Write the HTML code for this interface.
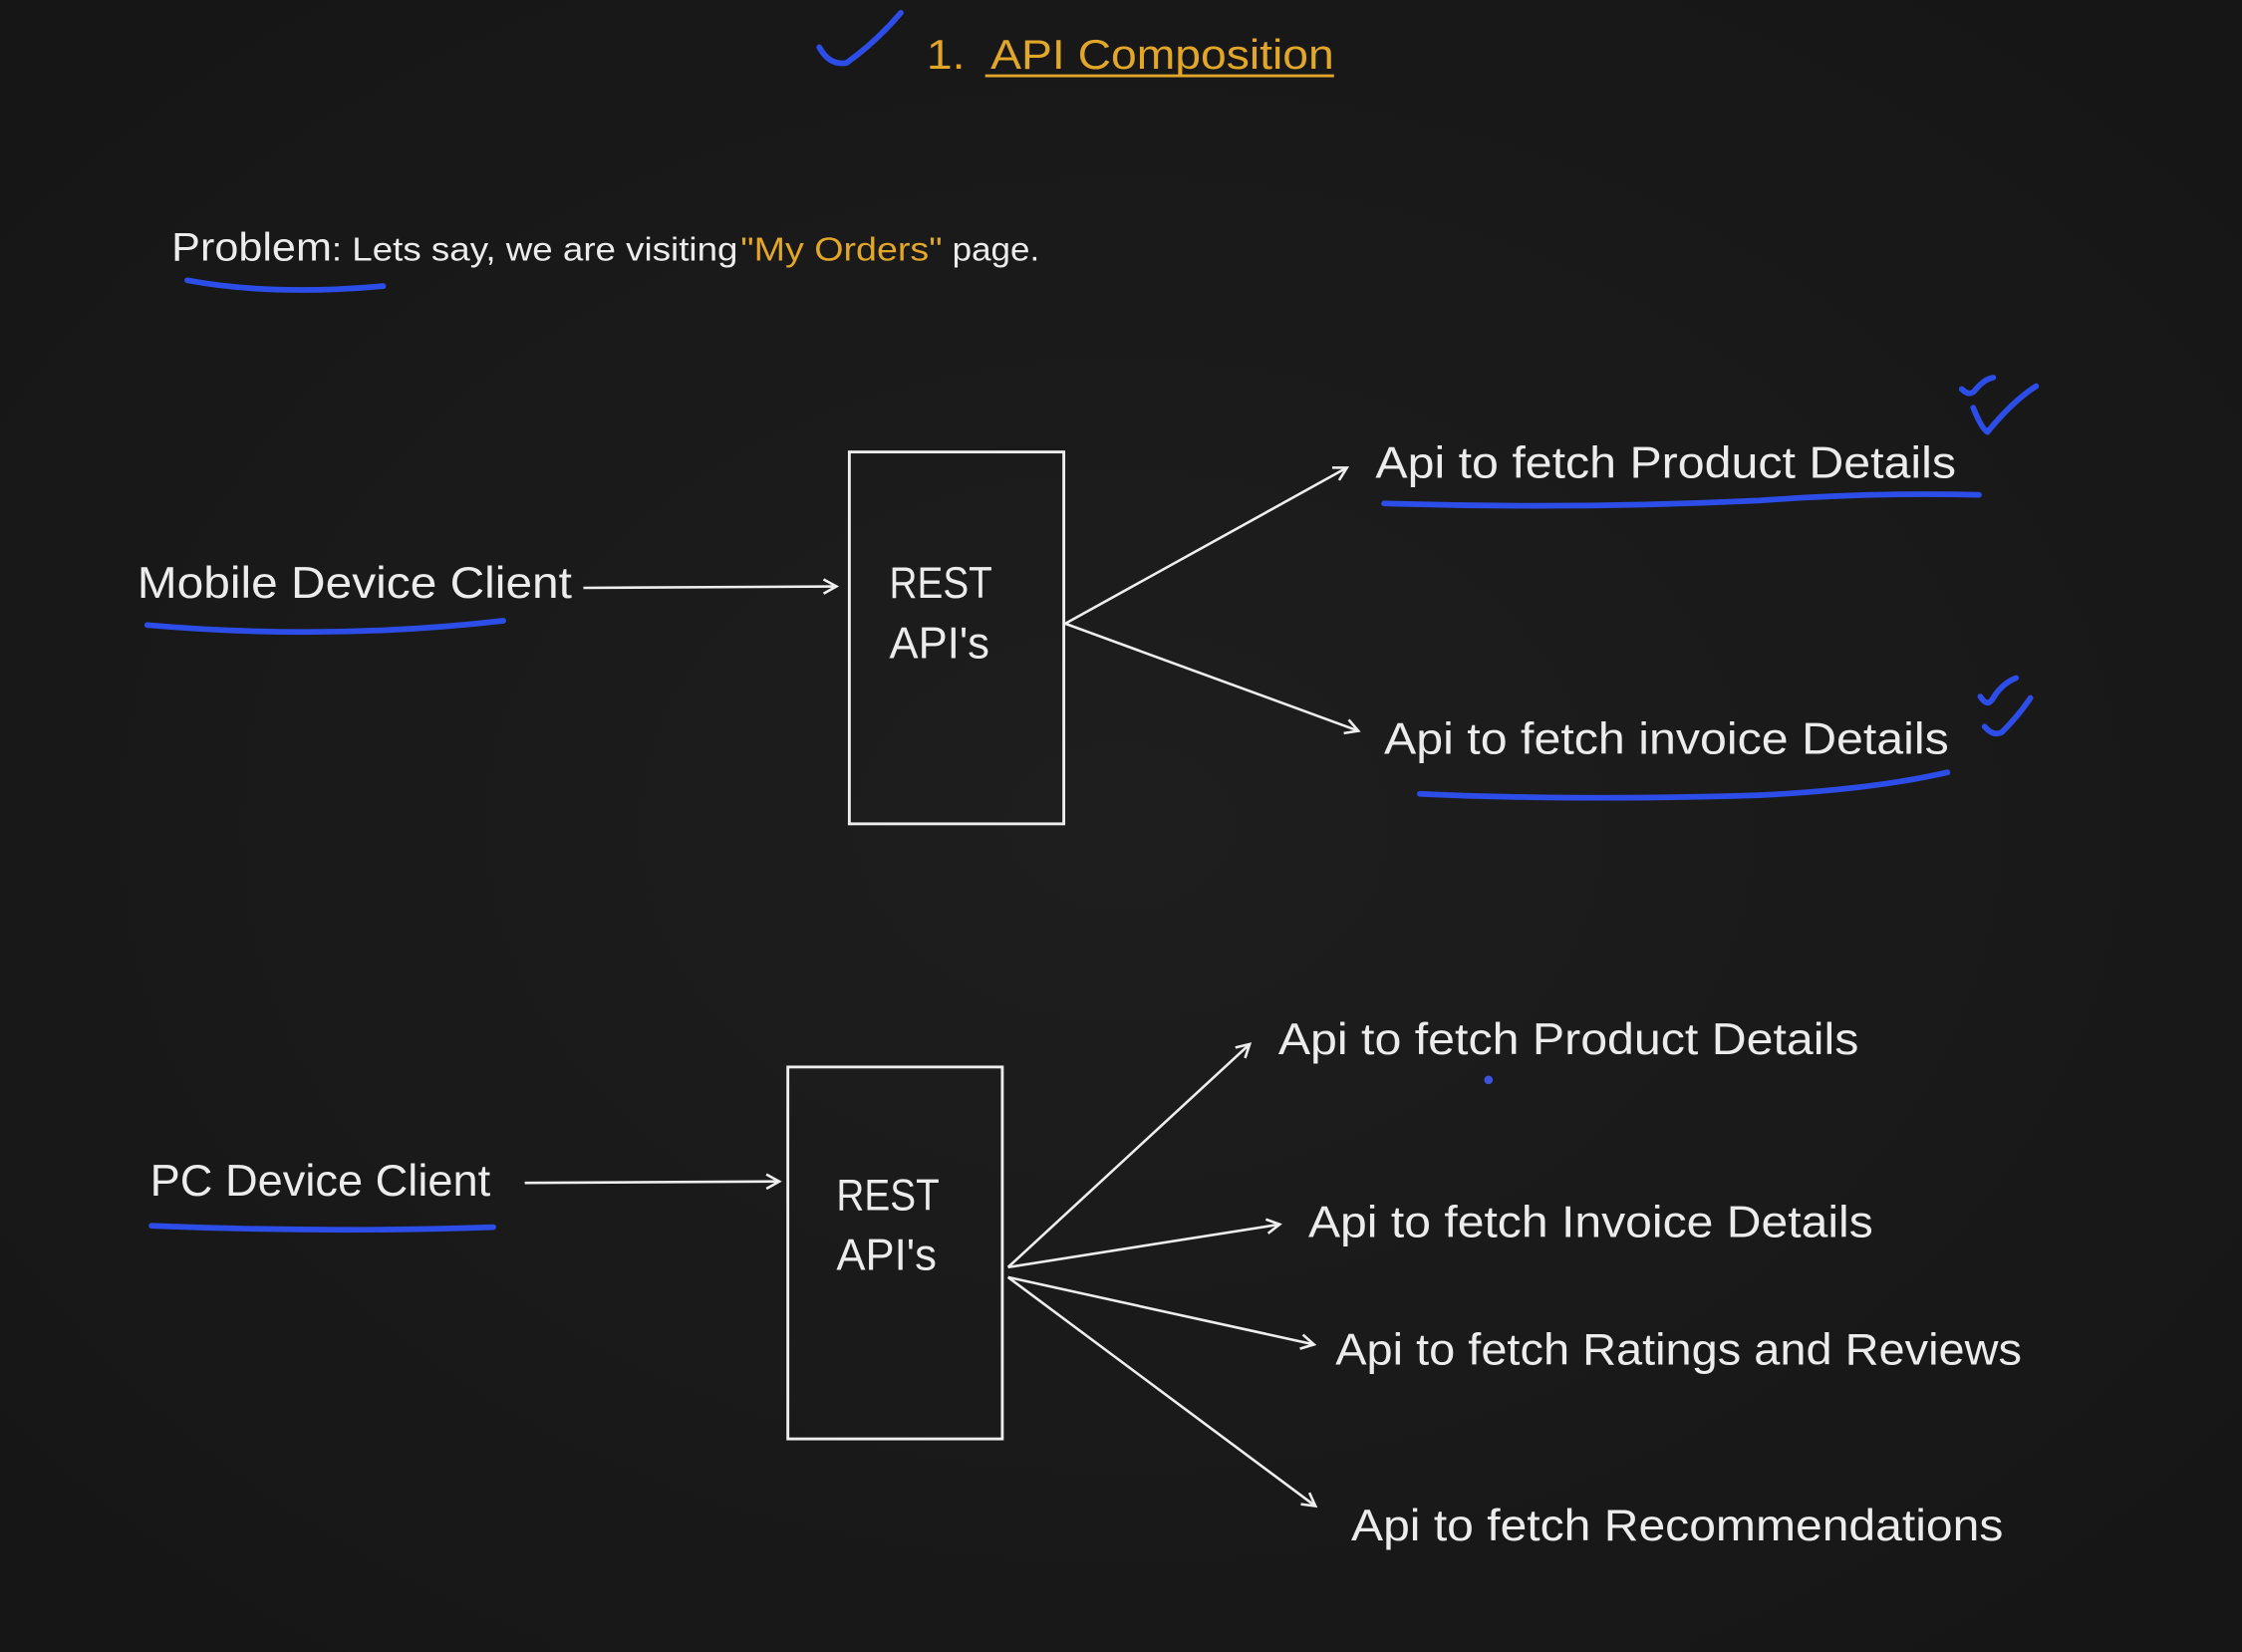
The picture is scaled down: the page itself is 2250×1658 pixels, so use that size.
<!DOCTYPE html>
<html><head><meta charset="utf-8"><style>
html,body{margin:0;padding:0;background:#1a1a1a;}
svg{display:block}
text{font-family:"Liberation Sans",sans-serif;fill:#ececec}
</style></head><body>
<svg width="2250" height="1658" viewBox="0 0 1568 1155" preserveAspectRatio="none" xmlns="http://www.w3.org/2000/svg">
<defs>
<radialGradient id="bg" cx="50%" cy="50%" r="75%"><stop offset="0" stop-color="#1e1e1e"/><stop offset="1" stop-color="#151515"/></radialGradient>
<marker id="ah" markerWidth="12" markerHeight="12" refX="10" refY="6" orient="auto" markerUnits="userSpaceOnUse"><path d="M1,1 L10,6 L1,11" fill="none" stroke="#eee" stroke-width="1.8"/></marker>
</defs>
<rect width="1568" height="1155" fill="url(#bg)"/>
<g fill="none" stroke="#2d4de8" stroke-width="4" stroke-linecap="round" stroke-linejoin="round">
<path d="M573,33 Q580,46 592,44 Q612,30 630,9"/>
<path d="M131,196 Q190,207 268,200"/>
<path d="M103,437 Q230,448 352,434"/>
<path d="M106,857 Q230,862 345,858"/>
<path d="M968,352 Q1100,356 1230,350 Q1310,344 1384,346"/>
<path d="M993,555 Q1100,560 1230,556 Q1310,552 1362,540"/>
<path d="M1372,272 Q1378,278 1382,272 Q1388,265 1394,264 M1380,285 Q1386,300 1390,302 Q1408,280 1424,270"/>
<path d="M1385,487 Q1390,495 1394,488 Q1400,478 1410,474 M1388,508 Q1394,515 1400,512 Q1412,500 1420,488"/>
</g>
<circle cx="1041" cy="755" r="3" fill="#3a54e0"/>
<text x="648" y="48" font-size="29" style="fill:#e2a629" textLength="285" lengthAdjust="spacingAndGlyphs">1.&#160;&#160;API Composition</text>
<line x1="689" y1="53" x2="933" y2="53" stroke="#e2a629" stroke-width="2"/>
<text x="120" y="182" font-size="28" textLength="112" lengthAdjust="spacingAndGlyphs">Problem</text>
<text x="232" y="182" font-size="23" textLength="284" lengthAdjust="spacingAndGlyphs">: Lets say, we are visiting</text>
<text x="518" y="182" font-size="23" style="fill:#e2a629" textLength="141" lengthAdjust="spacingAndGlyphs">"My Orders"</text>
<text x="666" y="182" font-size="23" textLength="61" lengthAdjust="spacingAndGlyphs">page.</text>

<rect x="594" y="316" width="150" height="260" fill="none" stroke="#eee" stroke-width="2"/>
<text x="622" y="418" font-size="31" textLength="72" lengthAdjust="spacingAndGlyphs">REST</text>
<text x="622" y="460" font-size="31" textLength="70" lengthAdjust="spacingAndGlyphs">API's</text>
<text x="96" y="418" font-size="31" textLength="304" lengthAdjust="spacingAndGlyphs">Mobile Device Client</text>
<g stroke="#eee" stroke-width="1.8" fill="none">
<line x1="408" y1="411" x2="585" y2="410" marker-end="url(#ah)"/>
<line x1="745" y1="436" x2="942" y2="327" marker-end="url(#ah)"/>
<line x1="745" y1="436" x2="950" y2="511" marker-end="url(#ah)"/>
</g>
<text x="962" y="334" font-size="31" textLength="406" lengthAdjust="spacingAndGlyphs">Api to fetch Product Details</text>
<text x="968" y="527" font-size="31" textLength="395" lengthAdjust="spacingAndGlyphs">Api to fetch invoice Details</text>

<rect x="551" y="746" width="150" height="260" fill="none" stroke="#eee" stroke-width="2"/>
<text x="585" y="846" font-size="31" textLength="72" lengthAdjust="spacingAndGlyphs">REST</text>
<text x="585" y="888" font-size="31" textLength="70" lengthAdjust="spacingAndGlyphs">API's</text>
<text x="105" y="836" font-size="31" textLength="238" lengthAdjust="spacingAndGlyphs">PC Device Client</text>
<g stroke="#eee" stroke-width="1.8" fill="none">
<line x1="367" y1="827" x2="545" y2="826" marker-end="url(#ah)"/>
<line x1="705" y1="886" x2="874" y2="730" marker-end="url(#ah)"/>
<line x1="705" y1="886" x2="895" y2="856" marker-end="url(#ah)"/>
<line x1="705" y1="893" x2="919" y2="940" marker-end="url(#ah)"/>
<line x1="705" y1="893" x2="920" y2="1053" marker-end="url(#ah)"/>
</g>
<text x="894" y="737" font-size="31" textLength="406" lengthAdjust="spacingAndGlyphs">Api to fetch Product Details</text>
<text x="915" y="865" font-size="31" textLength="395" lengthAdjust="spacingAndGlyphs">Api to fetch Invoice Details</text>
<text x="934" y="954" font-size="31" textLength="480" lengthAdjust="spacingAndGlyphs">Api to fetch Ratings and Reviews</text>
<text x="945" y="1077" font-size="31" textLength="456" lengthAdjust="spacingAndGlyphs">Api to fetch Recommendations</text>
</svg>
</body></html>
